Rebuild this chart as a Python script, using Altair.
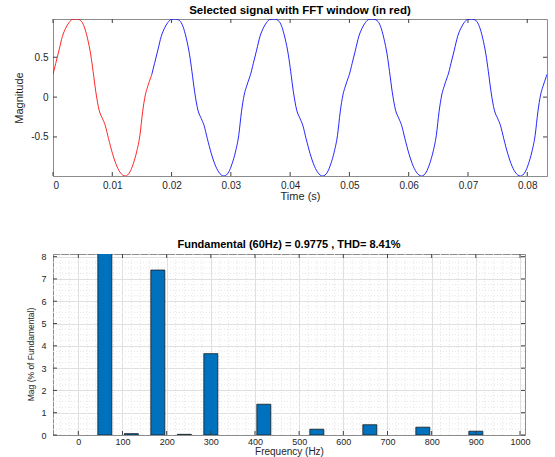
import altair as alt
import pandas as pd

# ---------------- data: selected signal ----------------
RED_T = [0.00000, 0.00045, 0.00102, 0.00158, 0.00214, 0.00271, 0.00327, 0.00395, 0.00468, 0.00525,
         0.00581, 0.00637, 0.00677, 0.00722, 0.00778, 0.00835, 0.00880, 0.00936, 0.01004, 0.01060,
         0.01128, 0.01218, 0.01297, 0.01354, 0.01410, 0.01466, 0.01512, 0.01557, 0.01596, 0.01653,
         0.01667]
RED_V = [0.286, 0.42, 0.59, 0.76, 0.865, 0.937, 0.975, 0.98, 0.96, 0.887,
         0.74, 0.53, 0.32, 0.067, -0.164, -0.27, -0.353, -0.52, -0.71, -0.836,
         -0.94, -0.99, -0.94, -0.836, -0.69, -0.479, -0.185, 0.025, 0.13, 0.256,
         0.286]

BLUE_T = [0.01667, 0.01712, 0.01769, 0.01825, 0.01881, 0.01938, 0.01994, 0.02062, 0.02135, 0.02192,
          0.02248, 0.02304, 0.02344, 0.02389, 0.02445, 0.02502, 0.02547, 0.02603, 0.02671, 0.02727,
          0.02795, 0.02885, 0.02964, 0.03021, 0.03077, 0.03133, 0.03179, 0.03224, 0.03263, 0.03320,
          0.03333, 0.03378, 0.03435, 0.03491, 0.03547, 0.03604, 0.03660, 0.03728, 0.03801, 0.03858,
          0.03914, 0.03970, 0.04010, 0.04055, 0.04111, 0.04168, 0.04213, 0.04269, 0.04337, 0.04393,
          0.04461, 0.04551, 0.04630, 0.04687, 0.04743, 0.04799, 0.04845, 0.04890, 0.04929, 0.04986,
          0.05000, 0.05045, 0.05102, 0.05158, 0.05214, 0.05271, 0.05327, 0.05395, 0.05468, 0.05525,
          0.05581, 0.05637, 0.05677, 0.05722, 0.05778, 0.05835, 0.05880, 0.05936, 0.06004, 0.06060,
          0.06128, 0.06218, 0.06297, 0.06354, 0.06410, 0.06466, 0.06512, 0.06557, 0.06596, 0.06653,
          0.06667, 0.06712, 0.06769, 0.06825, 0.06881, 0.06938, 0.06994, 0.07062, 0.07135, 0.07192,
          0.07248, 0.07304, 0.07344, 0.07389, 0.07445, 0.07502, 0.07547, 0.07603, 0.07671, 0.07727,
          0.07795, 0.07885, 0.07964, 0.08021, 0.08077, 0.08133, 0.08179, 0.08224, 0.08263, 0.08320,
          0.08333]
BLUE_V = [0.286, 0.42, 0.59, 0.76, 0.865, 0.937, 0.975, 0.98, 0.96, 0.887,
          0.74, 0.53, 0.32, 0.067, -0.164, -0.27, -0.353, -0.52, -0.71, -0.836,
          -0.94, -0.99, -0.94, -0.836, -0.69, -0.479, -0.185, 0.025, 0.13, 0.256,
          0.286, 0.42, 0.59, 0.76, 0.865, 0.937, 0.975, 0.98, 0.96, 0.887,
          0.74, 0.53, 0.32, 0.067, -0.164, -0.27, -0.353, -0.52, -0.71, -0.836,
          -0.94, -0.99, -0.94, -0.836, -0.69, -0.479, -0.185, 0.025, 0.13, 0.256,
          0.286, 0.42, 0.59, 0.76, 0.865, 0.937, 0.975, 0.98, 0.96, 0.887,
          0.74, 0.53, 0.32, 0.067, -0.164, -0.27, -0.353, -0.52, -0.71, -0.836,
          -0.94, -0.99, -0.94, -0.836, -0.69, -0.479, -0.185, 0.025, 0.13, 0.256,
          0.286, 0.42, 0.59, 0.76, 0.865, 0.937, 0.975, 0.98, 0.96, 0.887,
          0.74, 0.53, 0.32, 0.067, -0.164, -0.27, -0.353, -0.52, -0.71, -0.836,
          -0.94, -0.99, -0.94, -0.836, -0.69, -0.479, -0.185, 0.025, 0.13, 0.256,
          0.286]

TOP_XTICKS = [0, 0.01, 0.02, 0.03, 0.04, 0.05, 0.06, 0.07, 0.08]
TOP_YTICKS = [-0.5, 0, 0.5]

# ---------------- data: FFT harmonics ----------------
FREQ = [60, 120, 180, 240, 300, 420, 540, 660, 780, 900]
MAG = [100, 0.06, 7.40, 0.03, 3.65, 1.38, 0.26, 0.46, 0.35, 0.17]

BOT_XTICKS = [0, 100, 200, 300, 400, 500, 600, 700, 800, 900, 1000]
BOT_YTICKS = [0, 1, 2, 3, 4, 5, 6, 7, 8]
BOT_XMINOR = [v for v in range(-40, 1000, 20) if v % 100 != 0]
BOT_YMINOR = [i / 4 for i in range(0, 33) if i % 4 != 0]

TOP_TITLE = "Selected signal with FFT window (in red)"
BOT_TITLE = "Fundamental (60Hz) = 0.9775 , THD= 8.41%"

FONT = "Liberation Sans"
TXT = "#262626"
BOX = "#8c8c8c"
TICKC = "#404040"

# ---------------- top chart ----------------
W1, H1 = 494, 157
xs1 = alt.Scale(domain=[0, 0.08333], nice=False, zero=False)
ys1 = alt.Scale(domain=[-0.99, 0.98], nice=False, zero=False)
xax1 = alt.Axis(values=TOP_XTICKS, labelExpr="'' + datum.value", ticks=False, grid=False,
                title="Time (s)", labelPadding=4, titlePadding=0, labelFontSize=10,
                titleFontSize=11, domainColor=BOX)
yax1 = alt.Axis(values=TOP_YTICKS, labelExpr="'' + datum.value", ticks=False, grid=False,
                title="Magnitude", labelPadding=5, titlePadding=6, labelFontSize=10,
                titleFontSize=11, domainColor=BOX)

X1 = lambda f: alt.X(f, scale=xs1, axis=xax1, title="Time (s)")
Y1 = lambda f: alt.Y(f, scale=ys1, axis=yax1, title="Magnitude")

red = alt.Chart(pd.DataFrame({"t": RED_T, "v": RED_V})).mark_line(
    color="#ff0000", strokeWidth=0.85, interpolate="monotone", clip=True
).encode(x=X1("t:Q"), y=Y1("v:Q"))

blue = alt.Chart(pd.DataFrame({"t": BLUE_T, "v": BLUE_V})).mark_line(
    color="#0000ff", strokeWidth=0.85, interpolate="monotone", clip=True
).encode(x=X1("t:Q"), y=Y1("v:Q"))

tx1 = pd.DataFrame({"t": TOP_XTICKS})
ty1 = pd.DataFrame({"v": TOP_YTICKS})
tick_kw = dict(size=4, thickness=1, color=TICKC, opacity=1)
t1_bot = alt.Chart(tx1).mark_tick(**tick_kw).encode(x=X1("t:Q"), y=alt.value(H1 - 2))
t1_top = alt.Chart(tx1).mark_tick(**tick_kw).encode(x=X1("t:Q"), y=alt.value(2))
t1_left = alt.Chart(ty1).mark_tick(**tick_kw).encode(y=Y1("v:Q"), x=alt.value(2))
t1_right = alt.Chart(ty1).mark_tick(**tick_kw).encode(y=Y1("v:Q"), x=alt.value(W1 - 2))

top = alt.layer(red, blue, t1_bot, t1_top, t1_left, t1_right).properties(
    width=W1, height=H1,
    title=alt.TitleParams(TOP_TITLE, fontSize=11.5, fontWeight="bold", font=FONT,
                          color="black", offset=3),
)

# ---------------- bottom chart ----------------
W2, H2 = 472, 181
xs2 = alt.Scale(domain=[-46, 1000], nice=False, zero=False)
ys2 = alt.Scale(domain=[0, 8.12], nice=False, zero=False)
xax2 = alt.Axis(values=BOT_XTICKS, labelExpr="'' + datum.value", ticks=False, grid=True,
                gridColor="#e0e0e0", title="Frequency (Hz)", labelPadding=2, titlePadding=0,
                labelFontSize=9, titleFontSize=10, domainColor=BOX)
yax2 = alt.Axis(values=BOT_YTICKS, labelExpr="'' + datum.value", ticks=False, grid=True,
                gridColor="#e0e0e0", title="Mag (% of Fundamental)", labelPadding=7,
                titlePadding=5, labelFontSize=9, titleFontSize=8.5, titleY=100,
                domainColor=BOX)

X2 = lambda f: alt.X(f, scale=xs2, axis=xax2, title="Frequency (Hz)")
Y2 = lambda f: alt.Y(f, scale=ys2, axis=yax2, title="Mag (% of Fundamental)")

minor_x = alt.Chart(pd.DataFrame({"f": BOT_XMINOR})).mark_rule(
    color="#e6e6e6", strokeWidth=1, strokeDash=[1, 2]
).encode(x=X2("f:Q"))
minor_y = alt.Chart(pd.DataFrame({"m": BOT_YMINOR})).mark_rule(
    color="#e6e6e6", strokeWidth=1, strokeDash=[1, 2]
).encode(y=Y2("m:Q"))

bars = alt.Chart(pd.DataFrame({"f": FREQ, "m": MAG})).mark_bar(
    width=14, color="#0072bd", stroke="#1a1a1a", strokeWidth=0.8, clip=True
).encode(x=X2("f:Q"), y=Y2("m:Q"))

tx2 = pd.DataFrame({"f": BOT_XTICKS})
ty2 = pd.DataFrame({"m": BOT_YTICKS})
t2_bot = alt.Chart(tx2).mark_tick(**tick_kw).encode(x=X2("f:Q"), y=alt.value(H2 - 2))
t2_top = alt.Chart(tx2).mark_tick(**tick_kw).encode(x=X2("f:Q"), y=alt.value(2))
t2_left = alt.Chart(ty2).mark_tick(**tick_kw).encode(y=Y2("m:Q"), x=alt.value(2))
t2_right = alt.Chart(ty2).mark_tick(**tick_kw).encode(y=Y2("m:Q"), x=alt.value(W2 - 2))

bottom = alt.layer(minor_x, minor_y, bars, t2_bot, t2_top, t2_left, t2_right).properties(
    width=W2, height=H2,
    title=alt.TitleParams(BOT_TITLE, fontSize=11, fontWeight="bold", font=FONT,
                          color="black", offset=3),
)

chart = alt.vconcat(top, bottom, spacing=78, bounds="flush").properties(
    padding={"left": 13, "top": 4, "right": 5, "bottom": 0},
    background="white",
).configure_view(stroke=BOX, strokeWidth=1).configure_axis(
    labelFont=FONT, titleFont=FONT, labelColor=TXT, titleColor=TXT,
    titleFontWeight="normal", domainWidth=1,
)

chart.save("out.html", embed_options={"renderer": "svg", "actions": False})
